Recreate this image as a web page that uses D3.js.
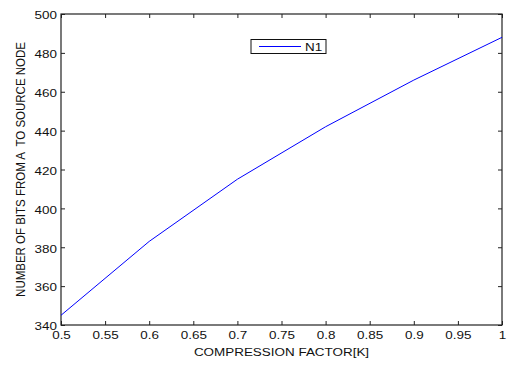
<!DOCTYPE html>
<html>
<head>
<meta charset="utf-8">
<script src="https://cdn.jsdelivr.net/npm/d3@7"></script>
<style>
  html, body { margin: 0; padding: 0; background: #fff; }
  svg { display: block; font-family: "Liberation Sans", Arial, sans-serif; }
</style>
</head>
<body>
<svg id="chart" width="508" height="367"></svg>
<script>
// Compression factor vs. bits sent from node A to the source node
const compression = [0.5, 0.6, 0.7, 0.8, 0.9, 1.0];
const bitsN1 = [345, 383, 415, 442, 466, 488];
const xTicks = [0.5, 0.55, 0.6, 0.65, 0.7, 0.75, 0.8, 0.85, 0.9, 0.95, 1];
const yTicks = [340, 360, 380, 400, 420, 440, 460, 480, 500];
const seriesName = "N1";

const svg = d3.select("#chart");
const m = { left: 61, top: 14, right: 502, bottom: 325 };
const fontSize = 11.5;
const stretch = 1.17; // horizontally widened glyphs

const x = d3.scaleLinear().domain([0.5, 1]).range([m.left, m.right]);
const y = d3.scaleLinear().domain([340, 500]).range([m.bottom, m.top]);

const tickLen = 4;
const fmt = d => String(+d.toFixed(2));

// Bottom axis (ticks pointing inward)
const gx = svg.append("g").attr("transform", `translate(0,${m.bottom})`)
  .call(d3.axisBottom(x).tickValues(xTicks).tickSizeInner(-tickLen).tickSizeOuter(0).tickPadding(8).tickFormat(fmt));
// Top mirrored ticks
const gxt = svg.append("g").attr("transform", `translate(0,${m.top})`)
  .call(d3.axisTop(x).tickValues(xTicks).tickSizeInner(-tickLen).tickSizeOuter(0).tickFormat(""));
// Left axis
const gy = svg.append("g").attr("transform", `translate(${m.left},0)`)
  .call(d3.axisLeft(y).tickValues(yTicks).tickSizeInner(-tickLen).tickSizeOuter(0).tickFormat(d3.format("d")));
// Right mirrored ticks
const gyr = svg.append("g").attr("transform", `translate(${m.right},0)`)
  .call(d3.axisRight(y).tickValues(yTicks).tickSizeInner(-tickLen).tickSizeOuter(0).tickFormat(""));

[gx, gxt, gy, gyr].forEach(g => {
  g.select(".domain").remove();
  g.selectAll("line").attr("stroke", "#222").attr("stroke-width", 1);
  g.selectAll("text").attr("fill", "#111").attr("font-size", fontSize)
    .attr("font-family", "Liberation Sans, Arial, sans-serif")
    .attr("transform", `scale(${stretch},1)`);
});
gx.selectAll("text").attr("dy", "0.55em");
gy.selectAll("text").attr("x", -4 / stretch).attr("dy", "0.42em");

// Plot frame
svg.append("rect")
  .attr("x", m.left).attr("y", m.top)
  .attr("width", m.right - m.left).attr("height", m.bottom - m.top)
  .attr("fill", "none").attr("stroke", "#222").attr("stroke-width", 1.2);

// Series line
const line = d3.line().x((d, i) => x(compression[i])).y(d => y(d));
svg.append("path").datum(bitsN1)
  .attr("d", line)
  .attr("fill", "none").attr("stroke", "#0000ff").attr("stroke-width", 1);

// Axis titles
svg.append("text")
  .attr("transform", `translate(${(m.left + m.right) / 2},356) scale(${stretch},1)`)
  .attr("text-anchor", "middle").attr("font-size", fontSize).attr("fill", "#111")
  .text("COMPRESSION FACTOR[K]");

svg.append("text")
  .attr("transform", `translate(24.5,${(m.top + m.bottom) / 2}) scale(${stretch},1) rotate(-90)`)
  .attr("text-anchor", "middle").attr("font-size", fontSize).attr("fill", "#111")
  .style("white-space", "pre")
  .text("NUMBER OF BITS FROM A  TO SOURCE NODE");

// Legend
const lg = svg.append("g").attr("transform", "translate(251,39.5)");
lg.append("rect").attr("width", 75).attr("height", 14)
  .attr("fill", "#fff").attr("stroke", "#111").attr("stroke-width", 1);
lg.append("line").attr("x1", 8).attr("x2", 50).attr("y1", 7).attr("y2", 7)
  .attr("stroke", "#0000ff").attr("stroke-width", 1);
lg.append("text").attr("transform", `translate(54,11) scale(${stretch},1)`)
  .attr("font-size", fontSize).attr("fill", "#111")
  .text(seriesName);
</script>
</body>
</html>
